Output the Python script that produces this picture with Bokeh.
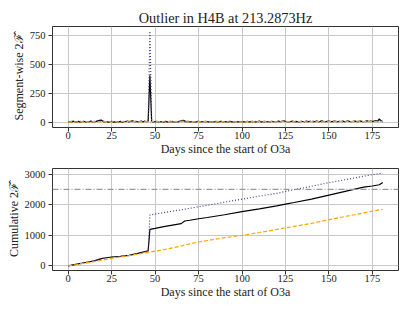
from bokeh.plotting import figure
from bokeh.layouts import column
from bokeh.models import Range1d, FixedTicker, Span
from bokeh.embed import file_html
from bokeh.resources import INLINE

# ---------------- data ----------------
days = list(range(0, 182))

seg_combined = [
    4, 12, 9, 15, 7, 10, 13, 6, 11, 14, 8, 12, 10, 16, 9, 11, 13, 18, 22, 24,
    15, 9, 12, 7, 10, 14, 6, 9, 11, 8, 13, 5, 10, 12, 15, 9, 14, 18, 11, 13,
    10, 12, 16, 9, 14, 11, 15, 410, 12, 9, 11, 13, 8, 10, 12, 7, 14, 9, 11, 13,
    10, 8, 12, 9, 14, 18, 22, 17, 11, 13, 9, 12, 10, 8, 11, 14, 9, 12, 10, 13,
    11, 9, 12, 8, 10, 13, 9, 11, 14, 8, 12, 10, 9, 13, 11, 8, 10, 12, 9, 11,
    10, 12, 8, 14, 9, 11, 13, 10, 8, 12, 15, 9, 11, 13, 10, 12, 9, 14, 11, 10,
    12, 15, 10, 13, 18, 14, 11, 9, 12, 16, 10, 13, 11, 9, 14, 12, 10, 15, 11, 13,
    12, 14, 10, 16, 11, 13, 18, 12, 10, 14, 15, 12, 11, 16, 13, 10, 14, 12, 15, 11,
    13, 17, 12, 10, 14, 16, 12, 11, 15, 13, 10, 14, 18, 12, 15, 11, 16, 20, 14, 34,
    18, 12,
]
seg_h1 = [
    6, 10, 14, 8, 11, 9, 7, 13, 10, 12, 9, 14, 8, 11, 10, 13, 9, 15, 17, 14,
    12, 8, 10, 13, 9, 11, 7, 12, 10, 9, 11, 8, 13, 10, 12, 14, 9, 11, 16, 10,
    12, 9, 13, 10, 15, 11, 9, 790, 10, 8, 12, 9, 11, 13, 7, 10, 12, 8, 11, 9,
    13, 10, 8, 12, 9, 11, 14, 10, 9, 12, 11, 8, 10, 13, 9, 11, 10, 12, 8, 11,
    9, 12, 10, 8, 11, 13, 9, 10, 12, 7, 11, 9, 13, 10, 8, 12, 11, 9, 10, 12,
    11, 9, 13, 10, 8, 12, 9, 11, 14, 10, 8, 12, 10, 9, 13, 11, 8, 10, 12, 9,
    11, 13, 9, 16, 12, 22, 10, 13, 9, 11, 14, 10, 12, 8, 11, 13, 9, 12, 10, 14,
    11, 9, 13, 18, 10, 12, 9, 14, 11, 8, 12, 10, 13, 9, 11, 15, 10, 12, 9, 13,
    11, 14, 10, 12, 9, 13, 11, 10, 14, 12, 9, 11, 13, 10, 12, 15, 11, 14, 10, 24,
    13, 10,
]
seg_l1 = [
    5, 9, 12, 7, 10, 8, 13, 9, 11, 6, 10, 12, 8, 11, 9, 14, 10, 8, 12, 9,
    11, 13, 9, 10, 12, 8, 11, 14, 9, 10, 7, 12, 10, 9, 13, 16, 11, 9, 12, 10,
    8, 11, 9, 13, 10, 12, 8, 11, 9, 14, 10, 12, 9, 11, 13, 10, 8, 12, 11, 9,
    12, 10, 14, 9, 11, 13, 15, 12, 10, 9, 11, 13, 10, 12, 8, 11, 9, 10, 13, 11,
    9, 12, 10, 8, 11, 9, 13, 10, 7, 11, 9, 12, 10, 8, 9, 11, 10, 12, 8, 9,
    10, 12, 9, 11, 8, 10, 13, 9, 11, 10, 12, 8, 10, 13, 9, 11, 10, 12, 9, 11,
    10, 9, 12, 11, 14, 10, 13, 9, 11, 18, 10, 12, 9, 11, 13, 10, 12, 9, 11, 10,
    12, 9, 11, 13, 10, 14, 12, 9, 11, 16, 10, 13, 11, 9, 12, 10, 14, 11, 13, 10,
    12, 15, 10, 11, 13, 9, 12, 17, 10, 14, 11, 12, 9, 13, 11, 10, 12, 14, 11, 13,
    12, 10,
]

cum_days_combined = [0, 5, 10, 15, 19, 20, 25, 30, 35, 40, 46, 47, 50, 55, 60, 65, 67, 70,
                     75, 80, 90, 100, 110, 120, 125, 130, 140, 150, 160, 170, 175, 179, 181]
cum_combined = [0, 55, 110, 165, 235, 250, 290, 315, 345, 410, 495, 1195, 1225, 1280, 1330,
                1380, 1465, 1490, 1540, 1580, 1670, 1770, 1860, 1960, 2020, 2070, 2180, 2310,
                2440, 2570, 2610, 2650, 2720]

cum_days_h1 = [0, 5, 10, 15, 19, 20, 25, 30, 35, 40, 46, 47, 50, 55, 60, 65, 70, 75, 80,
               90, 100, 110, 120, 125, 130, 140, 150, 160, 170, 175, 181]
cum_h1 = [0, 50, 105, 160, 225, 240, 285, 310, 340, 400, 485, 1665, 1690, 1740, 1790, 1830,
          1880, 1930, 1980, 2080, 2180, 2280, 2370, 2430, 2490, 2600, 2720, 2820, 2930, 2980,
          3030]

cum_days_l1 = [0, 5, 10, 15, 20, 25, 30, 35, 40, 46, 50, 55, 60, 65, 70, 75, 80, 90, 100,
               110, 120, 125, 130, 140, 150, 160, 170, 175, 181]
cum_l1 = [0, 45, 95, 140, 190, 245, 290, 335, 385, 440, 480, 530, 590, 650, 720, 780, 830,
          920, 1000, 1090, 1190, 1240, 1290, 1390, 1510, 1620, 1730, 1790, 1850]

threshold = 2500
x_ticks = [0, 25, 50, 75, 100, 125, 150, 175]
y_ticks_top = [0, 250, 500, 750]
y_ticks_bottom = [0, 1000, 2000, 3000]

title_text = "Outlier in H4B at 213.2873Hz"
xlabel = "Days since the start of O3a"
ylabel_top = "Segment-wise 2\u2131\u0302"
ylabel_bottom = "Cumulative 2\u2131\u0302"

# ---------------- style ----------------
FONT = "Liberation Serif"
C_BLACK = "black"
C_BLUE = "darkslateblue"
C_ORANGE = "#ffa500"
GRID = "#c8c8c8"
SPINE = "#333333"


def style(p, yticks):
    p.outline_line_color = SPINE
    p.outline_line_width = 1
    p.xaxis.ticker = FixedTicker(ticks=x_ticks)
    p.yaxis.ticker = FixedTicker(ticks=yticks)
    for ax in (p.xaxis[0], p.yaxis[0]):
        ax.axis_line_color = None
        ax.major_tick_in = 0
        ax.major_tick_out = 4
        ax.major_tick_line_color = SPINE
        ax.minor_tick_line_color = None
        ax.major_label_text_font = FONT
        ax.major_label_text_font_size = "10.5px"
        ax.major_label_text_color = "#222222"
        ax.axis_label_text_font = FONT
        ax.axis_label_text_font_size = "12px"
        ax.axis_label_text_font_style = "normal"
        ax.axis_label_text_color = "#222222"
    p.xaxis.major_label_standoff = 0
    p.xaxis.axis_label_standoff = 0
    p.yaxis.major_label_standoff = 3
    p.yaxis.axis_label_standoff = 1
    p.xgrid.grid_line_color = GRID
    p.ygrid.grid_line_color = GRID
    p.xgrid.grid_line_width = 1
    p.ygrid.grid_line_width = 1
    p.background_fill_color = "white"
    p.border_fill_color = "white"


p1 = figure(width=403, height=159, output_backend="svg", toolbar_location=None,
            x_range=Range1d(-9.05, 190.05), y_range=Range1d(-39.5, 829.5),
            min_border_left=52, min_border_right=5, min_border_top=26, min_border_bottom=32,
            title=title_text)
p1.title.text_font = FONT
p1.title.text_font_size = "14.3px"
p1.title.text_font_style = "normal"
p1.title.align = "center"
p1.title.text_color = "#222222"
p1.title.standoff = 2
style(p1, y_ticks_top)
p1.xaxis.axis_label = xlabel
p1.yaxis.axis_label = ylabel_top

p1.line(days, seg_combined, line_color=C_BLACK, line_width=1.2)
p1.line(days, seg_h1, line_color=C_BLUE, line_width=1.2, line_dash="1 2")
p1.line(days, seg_l1, line_color=C_ORANGE, line_width=1.2, line_dash="4 2")

p2 = figure(width=403, height=143, output_backend="svg", toolbar_location=None,
            x_range=Range1d(-9.05, 190.05), y_range=Range1d(-151, 3181),
            min_border_left=52, min_border_right=5, min_border_top=9, min_border_bottom=32)
style(p2, y_ticks_bottom)
p2.xaxis.axis_label = xlabel
p2.yaxis.axis_label = ylabel_bottom

p2.line(cum_days_combined, cum_combined, line_color=C_BLACK, line_width=1.2)
p2.line(cum_days_h1, cum_h1, line_color=C_BLUE, line_width=1.2, line_dash="1 2")
p2.line(cum_days_l1, cum_l1, line_color=C_ORANGE, line_width=1.2, line_dash="4 2")
p2.add_layout(Span(location=threshold, dimension="width", line_color="#999999",
                   line_width=1.2, line_dash="6 2 1 2"))

layout = column(p1, p2, spacing=0)
open("out.html", "w").write(file_html(layout, INLINE))
